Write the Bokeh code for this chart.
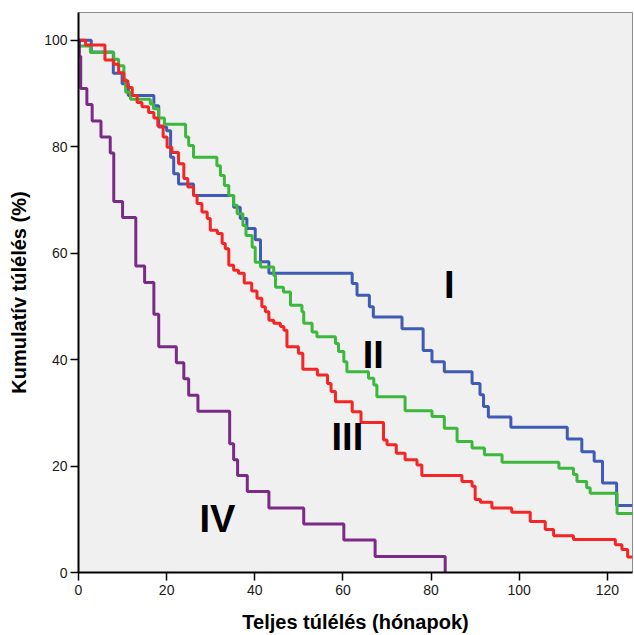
from bokeh.plotting import figure
from bokeh.models import FixedTicker, Range1d, ColumnDataSource
from bokeh.embed import file_html
from bokeh.resources import INLINE
from bokeh.core.properties import value

# Kaplan-Meier curves (months, cumulative survival %)
t_I = [0, 2.9, 7.9, 9.9, 11.3, 17.1, 18.2, 20.0, 20.9, 21.6, 22.7, 26.1, 35.2, 36.7, 38.2,
       40.1, 41.3, 43.2, 62.1, 63.2, 66.0, 66.9, 73.4, 78.2, 80.2, 83.0, 89.3, 91.1, 91.9,
       93.0, 98.1, 110.9, 114.2, 117.0, 118.9, 122.1, 125.7]
s_I = [100, 97.8, 93.8, 91.8, 89.6, 87.7, 83.7, 83.0, 78.0, 74.9, 73.0, 70.8, 68.6, 66.5, 64.6,
       62.5, 58.4, 56.2, 54.3, 52.1, 49.9, 48.0, 45.8, 41.7, 39.6, 37.7, 35.5, 33.4, 31.2,
       29.2, 27.3, 25.1, 22.7, 20.9, 16.8, 12.6, 12.6]

t_II = [0, 0.1, 2.7, 8.0, 9.1, 10.3, 10.7, 11.8, 16.3, 17.0, 18.2, 19.5, 24.3, 25.0, 26.1,
        31.4, 32.2, 33.1, 34.1, 35.2, 36.0, 37.3, 38.0, 39.4, 40.1, 41.3, 44.3, 44.7, 46.5,
        48.1, 50.7, 51.1, 53.0, 54.1, 58.3, 59.0, 60.2, 60.9, 65.8, 67.0, 67.7, 74.1, 80.2,
        83.0, 85.9, 89.3, 92.1, 96.1, 109.0, 112.3, 113.1, 115.3, 116.1, 122.2, 125.7]
s_II = [100, 98.9, 97.7, 96.4, 95.2, 92.7, 90.2, 88.9, 88.0, 87.1, 85.4, 84.2, 81.8, 80.2, 78.0,
        76.4, 74.6, 72.7, 70.8, 69.0, 67.4, 65.2, 63.3, 61.1, 58.3, 57.4, 55.8, 53.6, 52.7,
        50.2, 49.0, 46.8, 45.2, 44.3, 43.0, 41.5, 39.6, 37.7, 36.5, 35.2, 33.0, 30.4, 29.3,
        27.1, 24.6, 23.4, 22.1, 20.7, 19.6, 18.4, 17.1, 15.9, 14.9, 11.1, 11.1]

t_III = [0, 1.6, 6.0, 8.0, 9.1, 10.3, 11.2, 12.2, 13.3, 14.4, 15.9, 17.1, 18.0, 19.2, 20.1,
         21.2, 22.7, 23.9, 24.8, 26.1, 26.9, 28.0, 29.2, 29.9, 31.5, 32.6, 33.3, 34.1, 35.2,
         36.3, 37.6, 39.3, 40.5, 41.6, 42.4, 43.2, 44.3, 45.8, 46.6, 47.3, 49.9, 50.9, 54.2,
         56.5, 57.3, 58.3, 62.1, 64.1, 69.2, 70.0, 72.1, 74.1, 76.8, 77.9, 87.0, 89.3, 90.0,
         91.2, 93.8, 98.3, 102.5, 105.9, 107.8, 112.3, 121.8, 123.3, 124.6, 125.7]
s_III = [100, 99.1, 96.3, 95.5, 93.9, 92.4, 91.1, 89.6, 88.3, 87.5, 86.4, 85.4, 83.9, 81.8, 79.9,
         78.9, 76.8, 74.0, 72.4, 70.8, 69.3, 67.7, 66.5, 64.3, 63.7, 61.8, 60.8, 57.7, 56.8,
         56.2, 54.4, 52.9, 51.5, 49.9, 49.0, 47.4, 46.8, 46.2, 45.5, 42.4, 41.2, 38.2, 37.1,
         35.5, 34.0, 32.1, 30.2, 28.2, 24.9, 24.0, 22.4, 21.2, 20.2, 18.2, 17.1, 16.2, 13.7,
         13.2, 12.1, 11.3, 9.6, 8.1, 6.9, 6.2, 5.2, 4.3, 2.9, 2.9]

t_IV = [0, 0.2, 0.5, 1.9, 3.1, 5.1, 7.2, 8.0, 10.0, 13.0, 15.0, 17.1, 18.2, 22.2, 23.9, 25.0,
        27.1, 34.3, 35.2, 36.1, 38.3, 43.2, 51.1, 60.2, 67.3, 83.2]
s_IV = [100, 97.0, 90.9, 87.9, 84.8, 81.8, 78.8, 69.7, 66.7, 57.6, 54.5, 48.5, 42.4, 39.4, 36.4,
        33.3, 30.3, 24.2, 21.2, 18.2, 15.2, 12.1, 9.1, 6.1, 3.0, 0.0]

stage_labels = ["I", "II", "III", "IV"]
x_ticks = [0, 20, 40, 60, 80, 100, 120]
y_ticks = [0, 20, 40, 60, 80, 100]

# annotation anchor positions (data coords) for stage labels
label_x = [84.1, 66.9, 61.0, 31.5]
label_y = [54.0, 40.9, 25.5, 10.0]

colors = ["#3f5bb5", "#3cb83c", "#f42525", "#7b2a87"]
FONT = "Liberation Sans"

p = figure(width=634, height=635, output_backend="svg", toolbar_location=None,
           x_range=Range1d(0, 125.7), y_range=Range1d(0, 105.2),
           min_border_left=78, min_border_right=2, min_border_top=12, min_border_bottom=62)

p.background_fill_color = "#f0f0f0"
p.border_fill_color = "white"
p.outline_line_color = "#8c8c8c"
p.outline_line_width = 1
p.grid.visible = False

for tt, ss, c in [(t_I, s_I, colors[0]), (t_II, s_II, colors[1]),
                  (t_III, s_III, colors[2]), (t_IV, s_IV, colors[3])]:
    p.step(x=tt, y=ss, mode="after", line_width=3, line_color=c)

src = ColumnDataSource(dict(x=label_x, y=label_y, text=stage_labels))
p.text(x="x", y="y", text="text", source=src, text_align="center",
       text_baseline="alphabetic", text_font=value(FONT), text_font_style="bold",
       text_font_size="38px", text_color="black")

p.xaxis.ticker = FixedTicker(ticks=x_ticks)
p.yaxis.ticker = FixedTicker(ticks=y_ticks)
for ax in (p.xaxis, p.yaxis):
    ax.axis_line_color = "black"
    ax.axis_line_width = 2
    ax.major_tick_line_color = "black"
    ax.major_tick_line_width = 1.5
    ax.major_tick_out = 8
    ax.major_tick_in = 0
    ax.minor_tick_line_color = None
    ax.major_label_text_font = FONT
    ax.major_label_text_font_size = "14px"
    ax.major_label_text_color = "#1a1a1a"
    ax.axis_label_text_font = FONT
    ax.axis_label_text_font_style = "bold"
    ax.axis_label_text_font_size = "20px"
    ax.axis_label_text_color = "black"

p.xaxis.axis_label = "Teljes túlélés (hónapok)"
p.yaxis.axis_label = "Kumulatív túlélés (%)"
p.xaxis.major_label_standoff = 4
p.yaxis.major_label_standoff = 3
p.xaxis.axis_label_standoff = 13
p.yaxis.axis_label_standoff = 11

open("out.html", "w").write(file_html(p, INLINE))
